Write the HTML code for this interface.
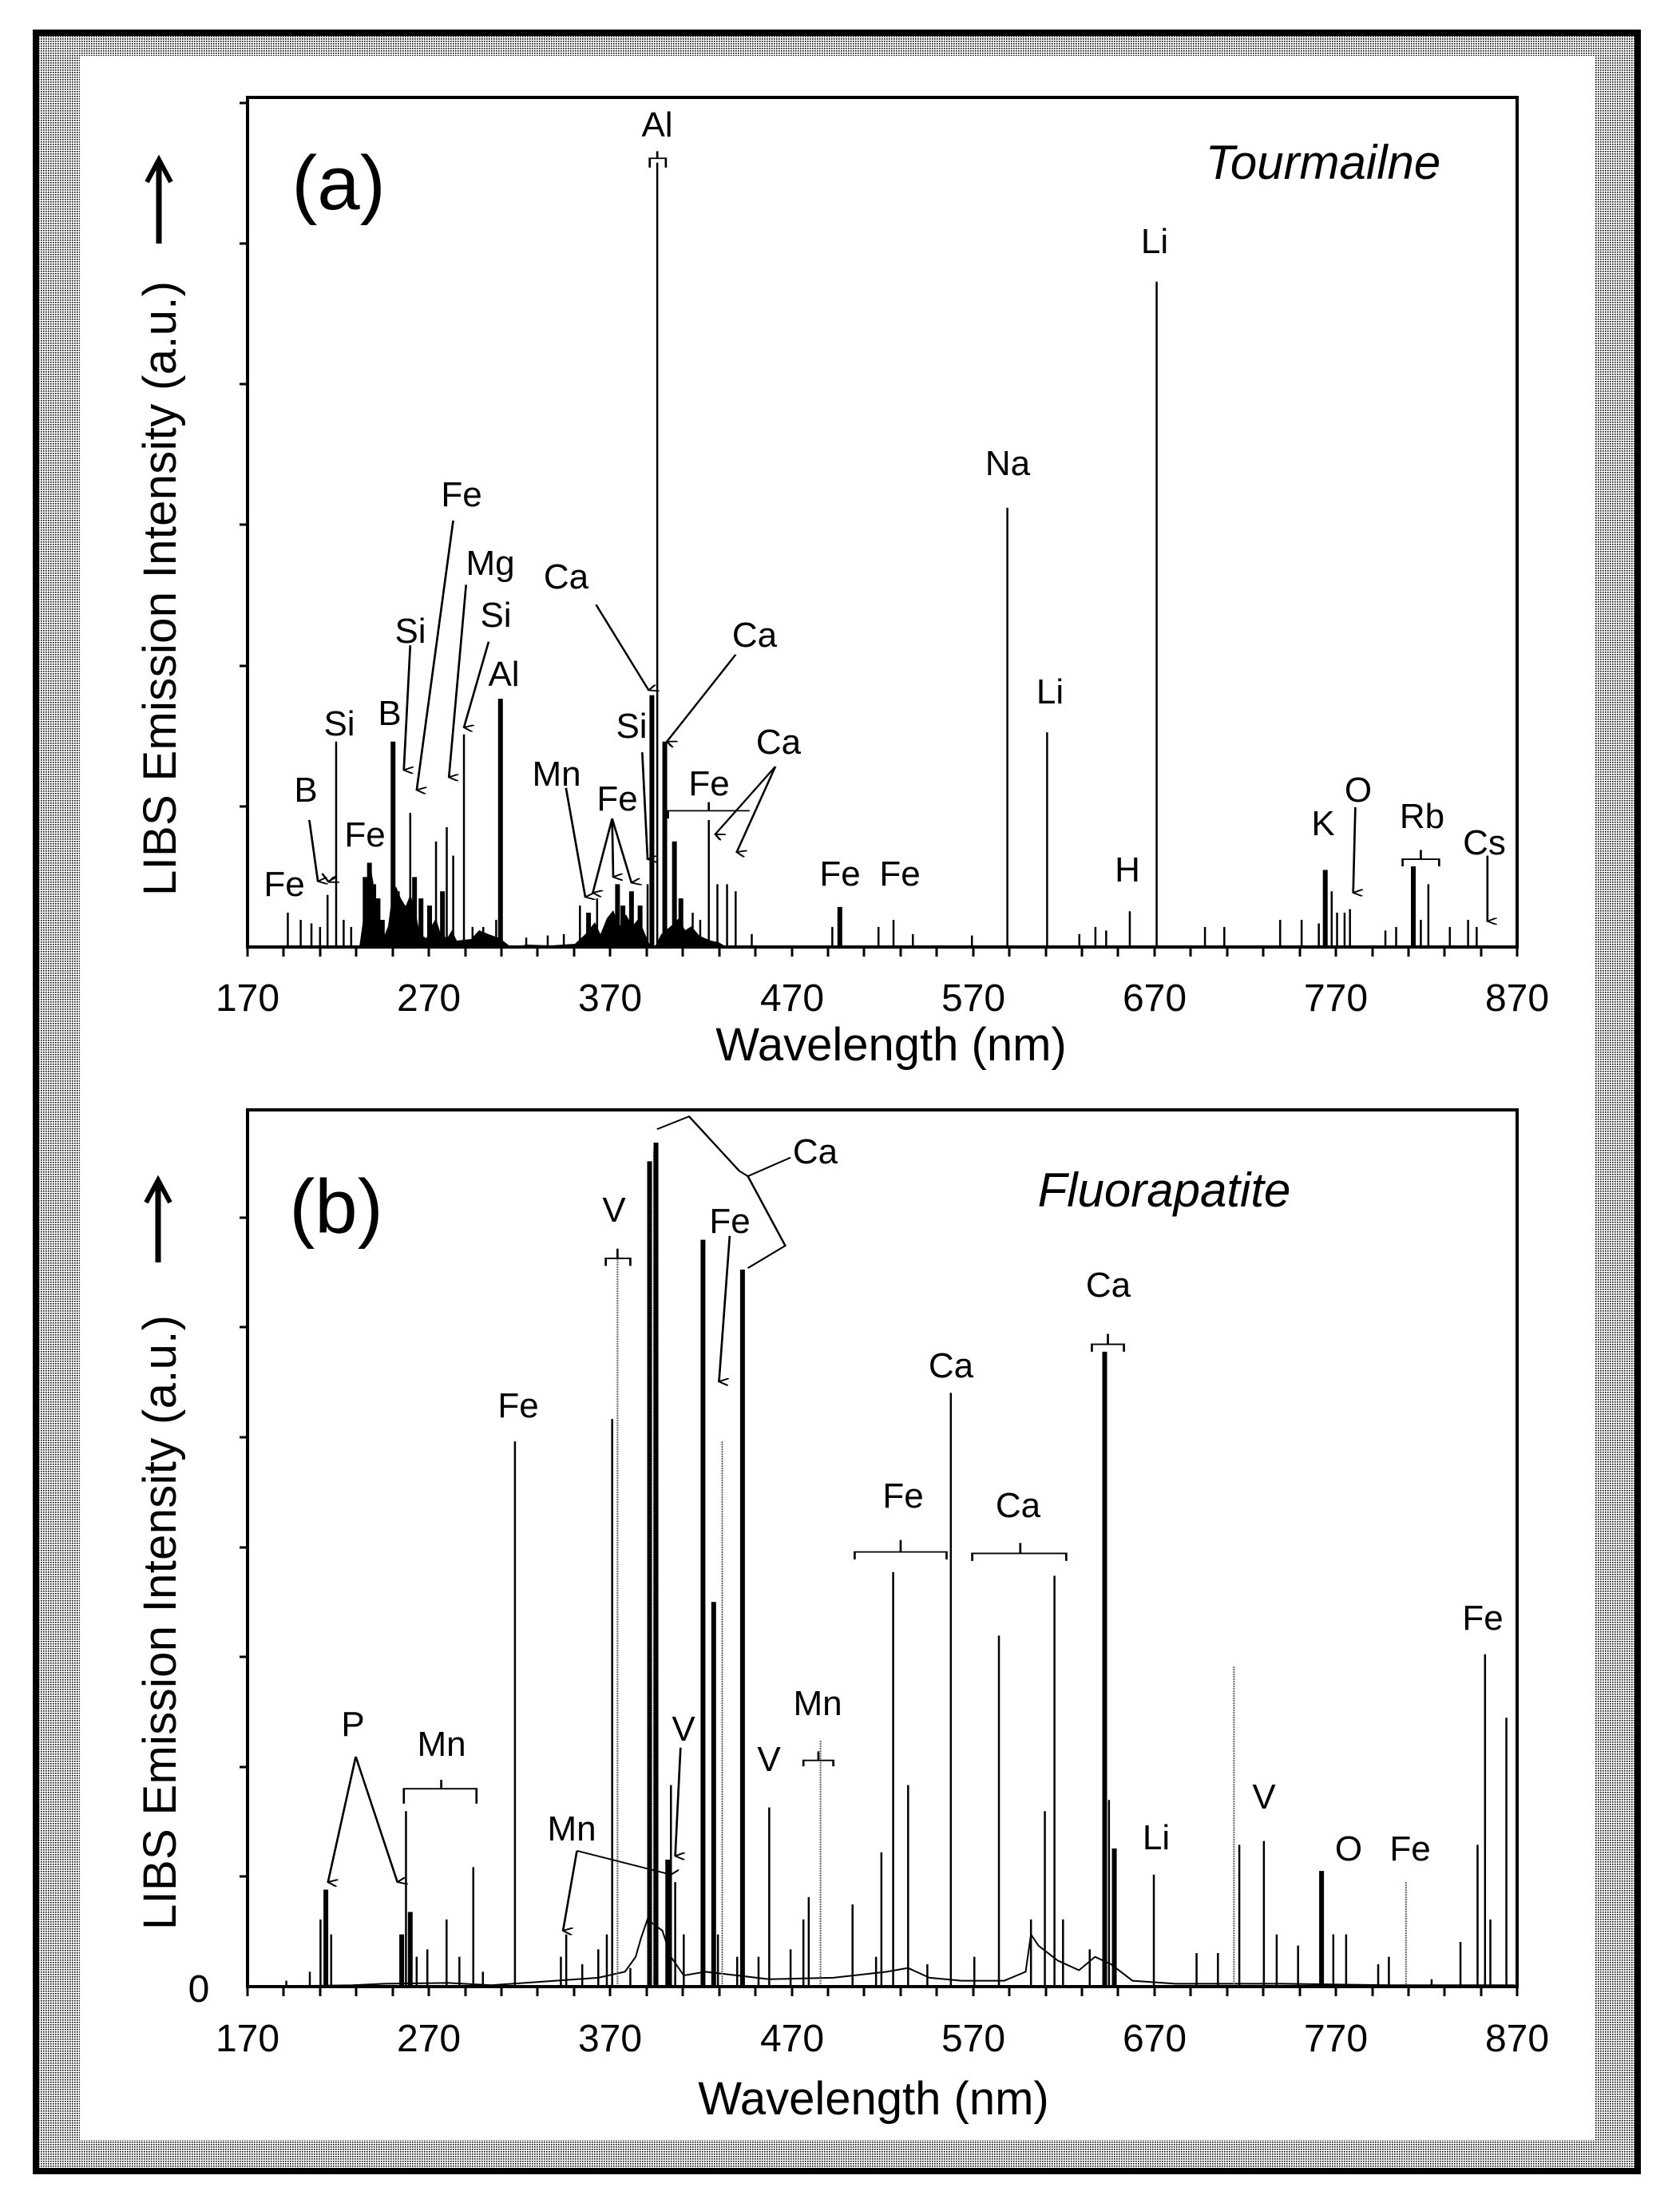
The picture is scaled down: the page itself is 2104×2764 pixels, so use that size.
<!DOCTYPE html>
<html><head><meta charset="utf-8"><style>
html,body{margin:0;padding:0;background:#fff;}
svg{display:block;}
text{font-family:"Liberation Sans",sans-serif;fill:#000;}
.l{font-size:44px;text-anchor:middle;}
.t{font-size:48px;text-anchor:middle;}
.sp line{vector-effect:non-scaling-stroke;stroke:#000;stroke-width:2.5;}
.sp line.k{stroke-width:6;}
.sp line.g{stroke:#666;stroke-width:2;stroke-dasharray:2 1;}
.an{fill:none;stroke:#000;stroke-width:2;vector-effect:non-scaling-stroke;}
</style></head><body>
<svg width="2104" height="2764" viewBox="0 0 2104 2764" xmlns="http://www.w3.org/2000/svg">
<defs>
<pattern id="st" width="3" height="3" patternUnits="userSpaceOnUse"><rect width="3" height="3" fill="#fff"/><rect width="1.6" height="1.6" fill="#000"/></pattern>
<marker id="ar" markerWidth="10" markerHeight="10" refX="5" refY="9" orient="auto-start-reverse" viewBox="0 0 10 10" markerUnits="userSpaceOnUse"><path d="M0,0 L5,9 L10,0" fill="none" stroke="#000" stroke-width="2"/></marker>
</defs>
<rect width="2104" height="2764" fill="#fff"/>
<path d="M49,45 H2047 V2715 H49 Z M100,70 V2680 H1998 V70 Z" fill="url(#st)" fill-rule="evenodd"/>
<rect x="45" y="41" width="2006" height="2678" fill="none" stroke="#000" stroke-width="8"/>

<!-- clutter fills plot A -->
<g fill="#000">
<path d="M450,1186 L455,1150 L460,1100 L465,1090 L470,1120 L475,1150 L480,1175 L486,1160 L490,1130 L496,1110 L502,1125 L508,1135 L514,1120 L520,1140 L526,1170 L534,1175 L540,1160 L546,1150 L552,1170 L560,1175 L566,1165 L572,1178 L590,1176 L600,1165 L612,1170 L626,1175 L640,1186 Z"/>
<path d="M640,1186 L660,1183 L690,1184 L720,1182 L733,1170 L745,1155 L752,1170 L760,1150 L768,1140 L776,1160 L784,1145 L792,1160 L800,1150 L808,1170 L815,1186 Z"/>
<path d="M820,1186 L828,1170 L840,1160 L850,1150 L858,1165 L866,1160 L876,1172 L890,1178 L900,1180 L910,1186 Z"/>
</g>
<g class="sp" transform="scale(1.345,0.893)">
<line x1="268" y1="1328" x2="268" y2="1280"/><line x1="280" y1="1328" x2="280" y2="1290"/><line x1="290" y1="1328" x2="290" y2="1295"/><line x1="298" y1="1328" x2="298" y2="1300"/><line x1="305" y1="1328" x2="305" y2="1255"/><line x1="313" y1="1328" x2="313" y2="1040"/><line x1="320" y1="1328" x2="320" y2="1290"/><line x1="327" y1="1328" x2="327" y2="1300"/>
<line class="k" x1="340" y1="1328" x2="340" y2="1230"/><line class="k" x1="344" y1="1328" x2="344" y2="1210"/><line class="k" x1="348" y1="1328" x2="348" y2="1240"/><line class="k" x1="352" y1="1328" x2="352" y2="1260"/><line class="k" x1="356" y1="1328" x2="356" y2="1290"/>
<line class="k" x1="366" y1="1328" x2="366" y2="1040"/><line class="k" x1="370" y1="1328" x2="370" y2="1250"/><line class="k" x1="376" y1="1328" x2="376" y2="1270"/><line x1="382" y1="1328" x2="382" y2="1140"/><line class="k" x1="386" y1="1328" x2="386" y2="1230"/><line class="k" x1="392" y1="1328" x2="392" y2="1260"/><line class="k" x1="400" y1="1328" x2="400" y2="1270"/><line x1="406" y1="1328" x2="406" y2="1180"/><line class="k" x1="412" y1="1328" x2="412" y2="1250"/><line x1="416" y1="1328" x2="416" y2="1160"/><line x1="422" y1="1328" x2="422" y2="1200"/><line x1="432" y1="1328" x2="432" y2="1030"/><line x1="440" y1="1328" x2="440" y2="1300"/><line x1="450" y1="1328" x2="450" y2="1300"/><line class="k" x1="466" y1="1328" x2="466" y2="980"/><line x1="462" y1="1328" x2="462" y2="1290"/>
<line x1="490" y1="1328" x2="490" y2="1315"/><line x1="510" y1="1328" x2="510" y2="1312"/><line x1="525" y1="1328" x2="525" y2="1310"/>
<line x1="540" y1="1328" x2="540" y2="1270"/><line class="k" x1="548" y1="1328" x2="548" y2="1280"/><line x1="556" y1="1328" x2="556" y2="1260"/><line class="k" x1="565" y1="1328" x2="565" y2="1300"/><line class="k" x1="575" y1="1328" x2="575" y2="1240"/><line class="k" x1="580" y1="1328" x2="580" y2="1270"/><line class="k" x1="588" y1="1328" x2="588" y2="1250"/><line class="k" x1="596" y1="1328" x2="596" y2="1270"/><line x1="603" y1="1328" x2="603" y2="1240"/>
<line class="k" x1="607" y1="1328" x2="607" y2="975"/><line x1="612" y1="1328" x2="612" y2="228"/><line class="k" x1="619" y1="1328" x2="619" y2="1040"/><line class="k" x1="628" y1="1328" x2="628" y2="1180"/><line class="k" x1="634" y1="1328" x2="634" y2="1260"/><line x1="645" y1="1328" x2="645" y2="1280"/><line x1="652" y1="1328" x2="652" y2="1290"/><line x1="660" y1="1328" x2="660" y2="1150"/><line x1="668" y1="1328" x2="668" y2="1240"/><line x1="677" y1="1328" x2="677" y2="1240"/><line x1="685" y1="1328" x2="685" y2="1250"/><line x1="700" y1="1328" x2="700" y2="1310"/>
<line x1="775" y1="1328" x2="775" y2="1300"/><line class="k" x1="782" y1="1328" x2="782" y2="1272"/><line x1="818" y1="1328" x2="818" y2="1300"/><line x1="832" y1="1328" x2="832" y2="1290"/><line x1="850" y1="1328" x2="850" y2="1310"/><line x1="905" y1="1328" x2="905" y2="1312"/>
<line x1="938" y1="1328" x2="938" y2="712"/><line x1="975" y1="1328" x2="975" y2="1027"/><line x1="1005" y1="1328" x2="1005" y2="1310"/><line x1="1020" y1="1328" x2="1020" y2="1300"/><line x1="1030" y1="1328" x2="1030" y2="1305"/><line x1="1052" y1="1328" x2="1052" y2="1278"/><line x1="1077" y1="1328" x2="1077" y2="395"/>
<line x1="1122" y1="1328" x2="1122" y2="1300"/><line x1="1140" y1="1328" x2="1140" y2="1300"/><line x1="1192" y1="1328" x2="1192" y2="1290"/><line x1="1212" y1="1328" x2="1212" y2="1290"/><line x1="1228" y1="1328" x2="1228" y2="1295"/><line class="k" x1="1234" y1="1328" x2="1234" y2="1220"/><line x1="1240" y1="1328" x2="1240" y2="1250"/><line x1="1245" y1="1328" x2="1245" y2="1280"/><line x1="1252" y1="1328" x2="1252" y2="1280"/><line x1="1257" y1="1328" x2="1257" y2="1275"/>
<line x1="1290" y1="1328" x2="1290" y2="1305"/><line x1="1300" y1="1328" x2="1300" y2="1300"/><line class="k" x1="1316" y1="1328" x2="1316" y2="1215"/><line x1="1323" y1="1328" x2="1323" y2="1290"/><line x1="1330" y1="1328" x2="1330" y2="1240"/><line x1="1350" y1="1328" x2="1350" y2="1300"/><line x1="1367" y1="1328" x2="1367" y2="1290"/><line x1="1375" y1="1328" x2="1375" y2="1300"/>
</g>
<rect x="310" y="122" width="1590" height="1064" fill="none" stroke="#000" stroke-width="4"/>
<g stroke="#000" stroke-width="3">
<path d="M310,1186v12M355,1186v12M401,1186v12M446,1186v12M492,1186v12M537,1186v12M583,1186v12M628,1186v12M673,1186v12M719,1186v12M764,1186v12M810,1186v12M855,1186v12M901,1186v12M946,1186v12M992,1186v12M1037,1186v12M1082,1186v12M1128,1186v12M1173,1186v12M1219,1186v12M1264,1186v12M1310,1186v12M1355,1186v12M1400,1186v12M1446,1186v12M1491,1186v12M1537,1186v12M1582,1186v12M1628,1186v12M1673,1186v12M1719,1186v12M1764,1186v12M1809,1186v12M1855,1186v12M1900,1186v12"/>
<path d="M300,1010h10M300,834h10M300,657h10M300,481h10M300,305h10M300,129h10"/>
</g>
<g class="t"><text x="310" y="1266">170</text><text x="537" y="1266">270</text><text x="764" y="1266">370</text><text x="992" y="1266">470</text><text x="1219" y="1266">570</text><text x="1446" y="1266">670</text><text x="1673" y="1266">770</text><text x="1900" y="1266">870</text></g>
<text x="1116" y="1328" font-size="58" text-anchor="middle">Wavelength (nm)</text>
<text transform="translate(220,737) rotate(-90)" font-size="58" text-anchor="middle" textLength="770">LIBS Emission Intensity (a.u.)</text>
<path d="M199,305 V205" stroke="#000" stroke-width="7"/><path d="M184,228 L199,200 L214,228" fill="none" stroke="#000" stroke-width="6"/>
<text x="424" y="262" font-size="96" text-anchor="middle">(a)</text>
<text x="1657" y="224" font-size="60" font-style="italic" text-anchor="middle">Tourmailne</text>
<g class="l">
<text x="823" y="171">Al</text><text x="1446" y="317">Li</text><text x="1262" y="595">Na</text><text x="578" y="634">Fe</text><text x="614" y="720">Mg</text><text x="709" y="737">Ca</text><text x="514" y="805">Si</text><text x="621" y="785">Si</text><text x="945" y="810">Ca</text><text x="631" y="859">Al</text><text x="1315" y="881">Li</text><text x="425" y="921">Si</text><text x="488" y="908">B</text><text x="791" y="924">Si</text><text x="975" y="944">Ca</text><text x="697" y="984">Mn</text><text x="888" y="996">Fe</text><text x="773" y="1015">Fe</text><text x="383" y="1004">B</text><text x="457" y="1060">Fe</text><text x="1701" y="1004">O</text><text x="1781" y="1037">Rb</text><text x="1657" y="1046">K</text><text x="1859" y="1070">Cs</text><text x="356" y="1122">Fe</text><text x="1052" y="1109">Fe</text><text x="1127" y="1109">Fe</text><text x="1412" y="1104">H</text>
</g>
<g class="an" transform="scale(1.345,0.893)">
<path d="M288,1150 L296,1236" marker-end="url(#ar)"/><path d="M313,1230 L306,1236"/><path d="M300,1225 L306,1237" marker-end="url(#ar)"/>
<path d="M382,905 L376,1080" marker-end="url(#ar)"/><path d="M422,730 L388,1108" marker-end="url(#ar)"/><path d="M434,820 L418,1090" marker-end="url(#ar)"/><path d="M455,900 L432,1020" marker-end="url(#ar)"/>
<path d="M555,848 L604,968" marker-end="url(#ar)"/><path d="M685,918 L621,1040" marker-end="url(#ar)"/><path d="M598,1055 L603,1205" marker-end="url(#ar)"/>
<path d="M527,1105 L545,1258" marker-end="url(#ar)"/><path d="M570,1148 L552,1252" marker-end="url(#ar)"/><path d="M570,1148 L571,1230" marker-end="url(#ar)"/><path d="M570,1148 L588,1238" marker-end="url(#ar)"/>
<path d="M622,1148 V1137 H698 M660,1137 V1125"/><path d="M722,1075 L666,1170" marker-end="url(#ar)"/><path d="M722,1075 L686,1195" marker-end="url(#ar)"/>
<path d="M1262,1132 L1260,1252" marker-end="url(#ar)"/><path d="M1306,1215 V1205 H1340 V1215 M1323,1205 V1192"/><path d="M1385,1200 L1385,1292" marker-end="url(#ar)"/>
<path d="M605,235 V222 H620 V235 M612,222 V212"/>
</g>

<!-- ===== Plot B ===== -->
<g transform="translate(0,1300) scale(1.338,0.9355)">
<path class="an" d="M232,1270 L330,1268 L360,1266 L420,1265 L460,1268 L520,1262 L560,1258 L585,1250 L595,1230 L600,1205 L606,1180 L620,1195 L628,1230 L640,1255 L660,1250 L690,1255 L720,1260 L780,1258 L830,1250 L850,1245 L870,1258 L900,1262 L940,1262 L960,1250 L965,1200 L972,1215 L990,1235 L1010,1248 L1025,1230 L1040,1240 L1060,1262 L1100,1266 L1200,1266 L1300,1268 L1418,1268"/>
<g class="sp">
<line x1="268" y1="1270" x2="268" y2="1262"/><line x1="290" y1="1270" x2="290" y2="1250"/><line x1="300" y1="1270" x2="300" y2="1180"/><line class="k" x1="305" y1="1270" x2="305" y2="1140"/><line x1="310" y1="1270" x2="310" y2="1200"/>
<line class="k" x1="376" y1="1270" x2="376" y2="1200"/><line x1="380" y1="1270" x2="380" y2="1035"/><line class="k" x1="384" y1="1270" x2="384" y2="1170"/><line x1="390" y1="1270" x2="390" y2="1230"/><line x1="400" y1="1270" x2="400" y2="1220"/><line x1="418" y1="1270" x2="418" y2="1180"/><line x1="430" y1="1270" x2="430" y2="1230"/><line x1="443" y1="1270" x2="443" y2="1110"/><line x1="452" y1="1270" x2="452" y2="1250"/>
<line x1="482" y1="1270" x2="482" y2="540"/><line x1="525" y1="1270" x2="525" y2="1230"/><line x1="530" y1="1270" x2="530" y2="1200"/><line x1="545" y1="1270" x2="545" y2="1240"/><line x1="560" y1="1270" x2="560" y2="1220"/><line x1="568" y1="1270" x2="568" y2="1200"/><line x1="573" y1="1270" x2="573" y2="510"/><line class="g" x1="578" y1="1270" x2="578" y2="295"/><line x1="590" y1="1270" x2="590" y2="1245"/>
<line class="k" x1="608" y1="1270" x2="608" y2="165"/><line class="g" x1="612" y1="1270" x2="612" y2="150"/><line class="k" x1="614" y1="1270" x2="614" y2="140"/>
<line class="k" x1="625" y1="1270" x2="625" y2="1100"/><line x1="628" y1="1270" x2="628" y2="1000"/><line x1="632" y1="1270" x2="632" y2="1130"/><line x1="640" y1="1270" x2="640" y2="1200"/>
<line class="k" x1="658" y1="1270" x2="658" y2="270"/><line class="k" x1="668" y1="1270" x2="668" y2="755"/><line class="g" x1="676" y1="1270" x2="676" y2="540"/><line x1="672" y1="1270" x2="672" y2="1200"/><line x1="690" y1="1270" x2="690" y2="1230"/><line class="k" x1="695" y1="1270" x2="695" y2="310"/>
<line x1="710" y1="1270" x2="710" y2="1230"/><line x1="720" y1="1270" x2="720" y2="1030"/><line x1="740" y1="1270" x2="740" y2="1220"/><line x1="752" y1="1270" x2="752" y2="1180"/><line x1="757" y1="1270" x2="757" y2="1150"/><line class="g" x1="768" y1="1270" x2="768" y2="940"/><line x1="798" y1="1270" x2="798" y2="1160"/>
<line x1="820" y1="1270" x2="820" y2="1230"/><line x1="825" y1="1270" x2="825" y2="1090"/><line x1="836" y1="1270" x2="836" y2="715"/><line x1="850" y1="1270" x2="850" y2="1000"/><line x1="868" y1="1270" x2="868" y2="1240"/><line x1="890" y1="1270" x2="890" y2="475"/><line x1="912" y1="1270" x2="912" y2="1230"/><line x1="935" y1="1270" x2="935" y2="800"/>
<line x1="965" y1="1270" x2="965" y2="1180"/><line x1="978" y1="1270" x2="978" y2="1035"/><line x1="987" y1="1270" x2="987" y2="720"/><line x1="995" y1="1270" x2="995" y2="1180"/><line x1="1020" y1="1270" x2="1020" y2="1220"/>
<line class="k" x1="1034" y1="1270" x2="1034" y2="420"/><line x1="1038" y1="1270" x2="1038" y2="1020"/><line class="k" x1="1043" y1="1270" x2="1043" y2="1085"/>
<line x1="1080" y1="1270" x2="1080" y2="1120"/><line x1="1120" y1="1270" x2="1120" y2="1225"/><line x1="1140" y1="1270" x2="1140" y2="1225"/><line class="g" x1="1155" y1="1270" x2="1155" y2="840"/><line x1="1160" y1="1270" x2="1160" y2="1080"/><line x1="1183" y1="1270" x2="1183" y2="1075"/><line x1="1195" y1="1270" x2="1195" y2="1200"/><line x1="1215" y1="1270" x2="1215" y2="1215"/><line class="k" x1="1237" y1="1270" x2="1237" y2="1115"/><line x1="1248" y1="1270" x2="1248" y2="1200"/><line x1="1260" y1="1270" x2="1260" y2="1200"/>
<line x1="1290" y1="1270" x2="1290" y2="1240"/><line x1="1300" y1="1270" x2="1300" y2="1230"/><line class="g" x1="1316" y1="1270" x2="1316" y2="1130"/><line x1="1340" y1="1270" x2="1340" y2="1260"/><line x1="1367" y1="1270" x2="1367" y2="1210"/><line x1="1383" y1="1270" x2="1383" y2="1080"/><line x1="1390" y1="1270" x2="1390" y2="825"/><line x1="1395" y1="1270" x2="1395" y2="1180"/><line x1="1410" y1="1270" x2="1410" y2="910"/>
</g>
<g class="an">
<path d="M615,122 L645,105 L692,178 L700,185 L735,278 L700,308 M700,185 L740,160"/>
<path d="M567,305 V295 H590 V305 M578,295 V282"/>
<path d="M683,265 L673,460" marker-end="url(#ar)"/>
<path d="M1022,420 V410 H1052 V420 M1037,410 V396"/>
<path d="M800,698 V688 H886 V698 M843,688 V672"/>
<path d="M910,700 V690 H998 V700 M955,690 V676"/>
<path d="M378,1025 V1005 H446 V1025 M413,1005 V993"/>
<path d="M752,975 V967 H780 V975 M766,967 V955"/>
<path d="M333,962 L307,1130" marker-end="url(#ar)"/><path d="M333,962 L372,1130" marker-end="url(#ar)"/>
<path d="M540,1088 L527,1195" marker-end="url(#ar)"/><path d="M540,1088 L628,1120" marker-end="url(#ar)"/>
<path d="M637,950 L632,1095" marker-end="url(#ar)"/>
</g>
</g>
<rect x="310" y="1390" width="1590" height="1098" fill="none" stroke="#000" stroke-width="4"/>
<g stroke="#000" stroke-width="3">
<path d="M310,2488v12M355,2488v12M401,2488v12M446,2488v12M492,2488v12M537,2488v12M583,2488v12M628,2488v12M673,2488v12M719,2488v12M764,2488v12M810,2488v12M855,2488v12M901,2488v12M946,2488v12M992,2488v12M1037,2488v12M1082,2488v12M1128,2488v12M1173,2488v12M1219,2488v12M1264,2488v12M1310,2488v12M1355,2488v12M1400,2488v12M1446,2488v12M1491,2488v12M1537,2488v12M1582,2488v12M1628,2488v12M1673,2488v12M1719,2488v12M1764,2488v12M1809,2488v12M1855,2488v12M1900,2488v12"/>
<path d="M300,2350h10M300,2213h10M300,2075h10M300,1938h10M300,1800h10M300,1662h10M300,1525h10"/>
</g>
<g class="t"><text x="310" y="2569">170</text><text x="537" y="2569">270</text><text x="764" y="2569">370</text><text x="992" y="2569">470</text><text x="1219" y="2569">570</text><text x="1446" y="2569">670</text><text x="1673" y="2569">770</text><text x="1900" y="2569">870</text><text x="249" y="2507">0</text></g>
<text x="1094" y="2648" font-size="58" text-anchor="middle">Wavelength (nm)</text>
<text transform="translate(220,2032) rotate(-90)" font-size="58" text-anchor="middle" textLength="770">LIBS Emission Intensity (a.u.)</text>
<path d="M198,1581 V1485" stroke="#000" stroke-width="7"/><path d="M183,1506 L198,1478 L213,1506" fill="none" stroke="#000" stroke-width="6"/>
<text x="421" y="1544" font-size="96" text-anchor="middle">(b)</text>
<text x="1458" y="1511" font-size="60" font-style="italic" text-anchor="middle">Fluorapatite</text>
<g class="l">
<text x="1021" y="1457">Ca</text><text x="769" y="1530">V</text><text x="914" y="1544">Fe</text><text x="1388" y="1624">Ca</text><text x="1191" y="1725">Ca</text><text x="649" y="1775">Fe</text><text x="1131" y="1888">Fe</text><text x="1275" y="1900">Ca</text><text x="1857" y="2041">Fe</text><text x="1024" y="2148">Mn</text><text x="442" y="2174">P</text><text x="553" y="2199">Mn</text><text x="856" y="2180">V</text><text x="963" y="2218">V</text><text x="716" y="2305">Mn</text><text x="1583" y="2265">V</text><text x="1448" y="2316">Li</text><text x="1689" y="2330">O</text><text x="1766" y="2330">Fe</text>
</g>
</svg>
</body></html>
